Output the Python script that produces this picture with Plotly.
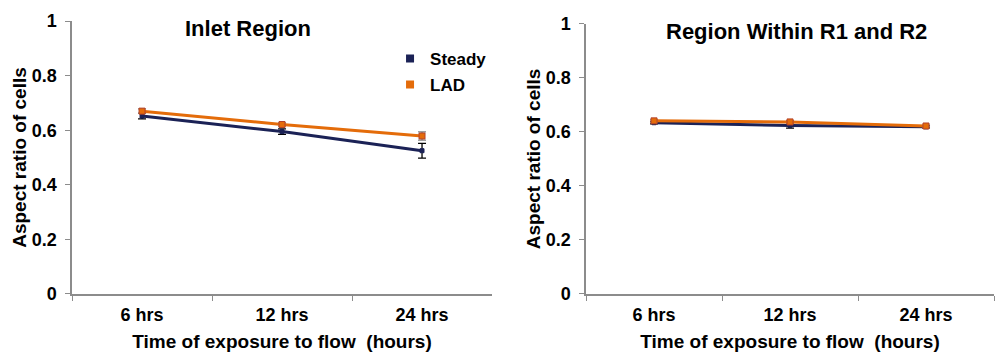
import plotly.graph_objects as go

# Exposure times (categories)
times = ["6 hrs", "12 hrs", "24 hrs"]

# Inlet region: mean aspect ratio and standard error
inlet_steady = [0.652, 0.595, 0.525]
inlet_steady_err = [0.010, 0.010, 0.027]
inlet_lad = [0.670, 0.621, 0.579]
inlet_lad_err = [0.008, 0.006, 0.015]

# Region within R1 and R2
r12_steady = [0.634, 0.624, 0.619]
r12_steady_err = [0.004, 0.010, 0.004]
r12_lad = [0.641, 0.637, 0.622]
r12_lad_err = [0.004, 0.005, 0.003]

panel_titles = ["Inlet Region", "Region Within R1 and R2"]
series_names = ["Steady", "LAD"]

STEADY = "#1B2256"
LAD = "#E46C0A"
AXIS = "#8C8C8C"
FONT = "Liberation Sans, Arial, sans-serif"

fig = go.Figure()


def add_series(xa, ya, y, err, color, ebar_color, msize, mline):
    fig.add_trace(go.Scatter(
        x=times, y=y, xaxis=xa, yaxis=ya, mode="lines+markers",
        line=dict(color=color, width=3),
        marker=dict(symbol="square", size=msize, color=color,
                    line=dict(color=mline, width=1)),
        error_y=dict(type="data", array=err, color=ebar_color,
                     thickness=1.3, width=4),
        showlegend=False, hoverinfo="x+y",
    ))


add_series("x", "y", inlet_steady, inlet_steady_err, STEADY, "#000000", 4, STEADY)
add_series("x", "y", inlet_lad, inlet_lad_err, LAD, "#7F7F7F", 6, "#B5432A")
add_series("x2", "y2", r12_steady, r12_steady_err, STEADY, "#000000", 4, STEADY)
add_series("x2", "y2", r12_lad, r12_lad_err, LAD, "#7F7F7F", 6, "#B5432A")

# Legend entries (square swatches)
for name, color in zip(series_names, [STEADY, LAD]):
    fig.add_trace(go.Scatter(
        x=[None], y=[None], xaxis="x", yaxis="y", mode="markers", name=name,
        legendgroup=name,
        marker=dict(symbol="square", size=8, color=color),
    ))

tickfont = dict(family=FONT, size=18, color="#000000", weight="bold")
titlefont = dict(family=FONT, size=19, color="#000000", weight="bold")

xcommon = dict(
    type="category", range=[-0.5, 2.5], tickson="boundaries",
    ticks="outside", ticklen=5, tickcolor=AXIS, tickwidth=1.3,
    showline=True, linecolor=AXIS, linewidth=1.5, showgrid=False,
    zeroline=False, tickfont=tickfont, automargin=False,
    ticklabelstandoff=4,
    title=dict(text="Time of exposure to flow  (hours)", font=titlefont, standoff=11),
    fixedrange=True,
)
ycommon = dict(
    range=[0, 1], dtick=0.2, ticks="outside", ticklen=5, tickcolor=AXIS,
    tickwidth=1.3, showline=True, linecolor=AXIS, linewidth=1.5,
    showgrid=False, zeroline=False, tickfont=tickfont, automargin=False,
    ticklabelstandoff=5,
    title=dict(text="Aspect ratio of cells", font=titlefont, standoff=0),
    fixedrange=True,
)

fig.update_layout(
    width=995, height=352,
    margin=dict(l=0, r=0, t=0, b=0, autoexpand=False),
    paper_bgcolor="white", plot_bgcolor="white",
    xaxis=dict(xcommon, domain=[0.0724, 0.4945], anchor="y"),
    yaxis=dict(ycommon, domain=[0.165, 0.940], anchor="x"),
    xaxis2=dict(xcommon, domain=[0.589, 0.999], anchor="y2"),
    yaxis2=dict(ycommon, domain=[0.165, 0.932], anchor="x2"),
    legend=dict(
        x=0.392, y=0.884, xanchor="left", yanchor="top",
        font=dict(family=FONT, size=17, color="#000000", weight="bold"),
        bgcolor="rgba(0,0,0,0)", tracegroupgap=1, itemwidth=30,
    ),
    annotations=[
        dict(text=panel_titles[0], x=0.249, y=0.92, xref="paper", yref="paper",
             xanchor="center", yanchor="middle", showarrow=False,
             font=dict(family=FONT, size=22, color="#000000", weight="bold")),
        dict(text=panel_titles[1], x=0.801, y=0.91, xref="paper", yref="paper",
             xanchor="center", yanchor="middle", showarrow=False,
             font=dict(family=FONT, size=22, color="#000000", weight="bold")),
    ],
)

fig.write_html("out.html")
